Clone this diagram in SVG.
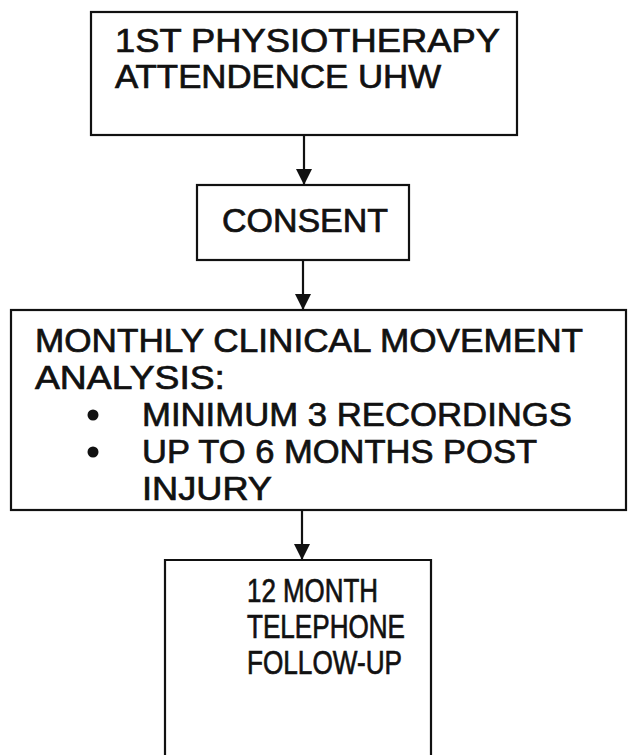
<svg xmlns="http://www.w3.org/2000/svg" width="634" height="755" viewBox="0 0 634 755">
<style>
.box{fill:#fff;stroke:#111;stroke-width:2.2}
.t{font-family:"Liberation Sans",Arial,sans-serif;font-size:33px;fill:#111;stroke:#111;stroke-width:0.7}
.c{stroke:#111;stroke-width:2.2;fill:none}
</style>
<defs>
<marker id="ah" markerUnits="userSpaceOnUse" markerWidth="18" markerHeight="18" refX="16" refY="8" orient="auto">
<path d="M0,0 L16,8 L0,16 Z" fill="#111"/>
</marker>
</defs>
<rect width="634" height="755" fill="#fff"/>
<g id="n1">
<rect class="box" x="91" y="12" width="426" height="123"/>
<text class="t" x="115" y="52" textLength="385" lengthAdjust="spacingAndGlyphs">1ST PHYSIOTHERAPY</text>
<text class="t" x="115" y="88" textLength="326" lengthAdjust="spacingAndGlyphs">ATTENDENCE UHW</text>
</g>
<g id="n2">
<rect class="box" x="197" y="185" width="212" height="75"/>
<text class="t" x="222" y="232" textLength="166" lengthAdjust="spacingAndGlyphs">CONSENT</text>
</g>
<g id="n3">
<rect class="box" x="11" y="310" width="615" height="200"/>
<text class="t" x="35" y="352" textLength="548" lengthAdjust="spacingAndGlyphs">MONTHLY CLINICAL MOVEMENT</text>
<text class="t" x="35" y="389" textLength="190" lengthAdjust="spacingAndGlyphs">ANALYSIS:</text>
<circle cx="93" cy="415" r="5.5" fill="#111"/>
<text class="t" x="142" y="426" textLength="430" lengthAdjust="spacingAndGlyphs">MINIMUM 3 RECORDINGS</text>
<circle cx="93" cy="452" r="5.5" fill="#111"/>
<text class="t" x="142" y="463" textLength="395" lengthAdjust="spacingAndGlyphs">UP TO 6 MONTHS POST</text>
<text class="t" x="142" y="500" textLength="130" lengthAdjust="spacingAndGlyphs">INJURY</text>
</g>
<g id="n4">
<path class="box" d="M165,760 L165,560 L431,560 L431,760"/>
<text class="t" x="247" y="602" textLength="131" lengthAdjust="spacingAndGlyphs">12 MONTH</text>
<text class="t" x="247" y="638" textLength="158" lengthAdjust="spacingAndGlyphs">TELEPHONE</text>
<text class="t" x="247" y="674" textLength="155" lengthAdjust="spacingAndGlyphs">FOLLOW-UP</text>
</g>
<g id="connectors">
<line class="c" x1="304" y1="135" x2="304" y2="185" marker-end="url(#ah)"/>
<line class="c" x1="303" y1="260" x2="303" y2="310" marker-end="url(#ah)"/>
<line class="c" x1="302" y1="510" x2="302" y2="560" marker-end="url(#ah)"/>
</g>
</svg>
